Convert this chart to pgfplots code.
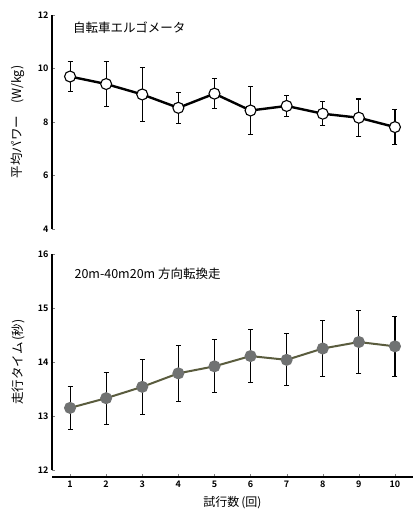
\documentclass[border=0pt]{standalone}
\usepackage{fontspec}
\setmainfont{Noto Sans CJK JP}[BoldFont={Noto Sans CJK JP Bold}]
\usepackage{pgfplots}
\pgfplotsset{compat=1.18}
\usepackage{pgfplotstable}

\definecolor{lineolive}{HTML}{5A5C3E}
\definecolor{markgray}{HTML}{707272}

\pgfplotstableread{
x y e
1 9.70 0.55
2 9.42 0.85
3 9.03 1.00
4 8.53 0.58
5 9.06 0.57
6 8.43 0.90
7 8.60 0.40
8 8.31 0.44
9 8.16 0.70
10 7.81 0.65
}\power

\pgfplotstableread{
x y e
1 13.15 0.40
2 13.33 0.48
3 13.54 0.51
4 13.79 0.52
5 13.92 0.49
6 14.11 0.49
7 14.04 0.48
8 14.25 0.52
9 14.37 0.59
10 14.29 0.56
}\runtime

\pgfplotsset{
  panel/.style={
    scale only axis, width=361pt,
    xmin=0.5, xmax=10.5,
    axis y line*=left,
    tick align=inside, major tick length=3pt,
    every tick label/.append style={font=\fontsize{9}{10}\bfseries},
    /pgf/number format/assume math mode=true,
    ylabel style={at={(axis description cs:-0.094,0.5)}, anchor=center,
      font=\fontsize{12.5}{14}\selectfont},
    axis line style={line width=1.2pt},
    error bars/error bar style={line width=1.1pt, black},
    error bars/error mark options={black, mark size=2.5pt, line width=1.1pt, rotate=90},
  },
}

\begin{document}
\begin{tikzpicture}[x=1pt,y=1pt]
\useasboundingbox (0,0) rectangle (413,517);

% upper panel
\begin{axis}[panel,
  at={(52pt,288pt)}, anchor=south west,
  height=214pt,
  ymin=4, ymax=12, ytick={4,6,8,10,12},
  axis x line=none,
  ylabel={平均パワー\quad(W/kg)},
]
\addplot[black, line width=2.4pt, mark=*, mark size=5.5pt,
  mark options={fill=white, draw=black, line width=1.1pt},
  error bars/.cd, y dir=both, y explicit]
  table[x=x, y=y, y error=e] {\power};
\node[anchor=west, inner sep=0pt, font=\fontsize{12.5}{14}\selectfont] at (axis description cs:0.058,0.94) {自転車エルゴメータ};
\end{axis}

% lower panel
\begin{axis}[panel,
  at={(52pt,47pt)}, anchor=south west,
  height=216pt,
  ymin=12, ymax=16, ytick={12,13,14,15,16},
  axis x line*=bottom,
  x axis line style={yshift=-7pt, line width=2pt},
  xtick={1,...,10},
  xtick style={yshift=-7pt},
  xticklabel style={yshift=-7pt},
  xlabel={試行数\,(回)},
  xlabel style={yshift=-2pt, font=\fontsize{12}{14}\selectfont},
  ylabel={走行タイム\,(秒)},
]
\addplot[lineolive, line width=2pt, mark=*, mark size=5pt,
  mark options={fill=markgray, draw=markgray},
  error bars/.cd, y dir=both, y explicit]
  table[x=x, y=y, y error=e] {\runtime};
\node[anchor=west, inner sep=0pt, font=\fontsize{12.5}{14}\selectfont] at (axis description cs:0.062,0.907) {20m-40m20m 方向転換走};
\end{axis}
\end{tikzpicture}
\end{document}
